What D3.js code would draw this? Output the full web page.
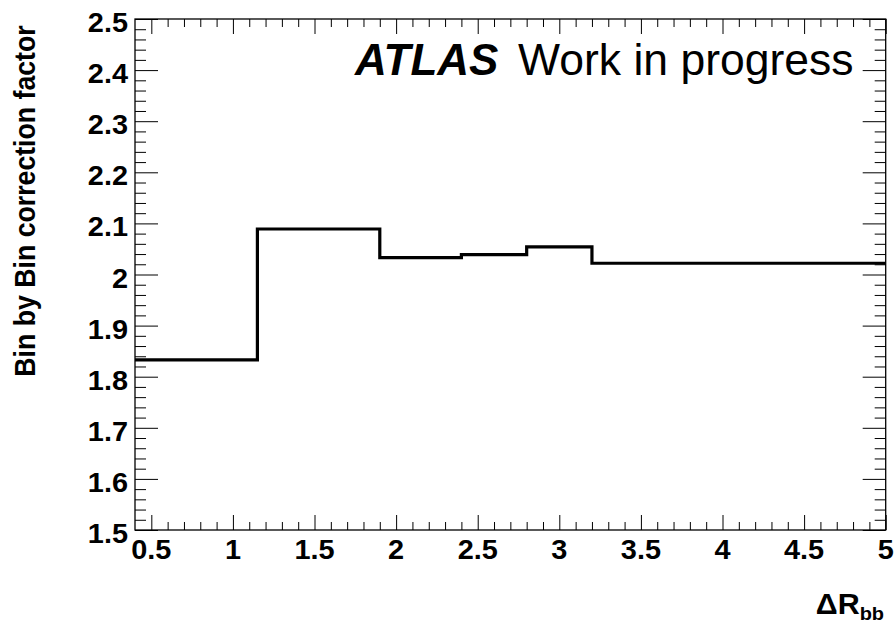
<!DOCTYPE html>
<html>
<head>
<meta charset="utf-8">
<script src="https://cdn.jsdelivr.net/npm/d3@7/dist/d3.min.js"></script>
<style>
  html, body { margin: 0; padding: 0; background: #fff; }
  svg { display: block; }
  text { font-family: "Liberation Sans", Arial, Helvetica, sans-serif; fill: #000; }
</style>
</head>
<body>
<script>
// Bin-by-bin correction factor versus Delta R between the two b-jets
const binEdges = [0.4, 1.15, 1.9, 2.4, 2.8, 3.2, 5.0];
const factors  = [1.833, 2.089, 2.033, 2.039, 2.054, 2.022];

const xMajorTicks = [0.5, 1, 1.5, 2, 2.5, 3, 3.5, 4, 4.5, 5];
const xTickLabels = ["0.5", "1", "1.5", "2", "2.5", "3", "3.5", "4", "4.5", "5"];
const yMajorTicks = [1.5, 1.6, 1.7, 1.8, 1.9, 2.0, 2.1, 2.2, 2.3, 2.4, 2.5];
const yTickLabels = ["1.5", "1.6", "1.7", "1.8", "1.9", "2", "2.1", "2.2", "2.3", "2.4", "2.5"];

const W = 895, H = 622;
const frame = { left: 135, right: 885.7, top: 19, bottom: 530 };

const svg = d3.select("body").append("svg")
  .attr("width", W).attr("height", H);

const x = d3.scaleLinear().domain([0.4, 5.0]).range([frame.left, frame.right]);
const y = d3.scaleLinear().domain([1.5, 2.5]).range([frame.bottom, frame.top]);

// minor tick positions
const xMinor = d3.range(5, 51).map(d => d / 10).filter(v => !xMajorTicks.some(m => Math.abs(m - v) < 1e-9));
const yMinor = d3.range(75, 126).map(d => d / 50).filter(v => !yMajorTicks.some(m => Math.abs(m - v) < 1e-9));

function tickAxis(axisFn, scale, values, size, tx, ty) {
  const g = svg.append("g")
    .attr("transform", `translate(${tx},${ty})`)
    .call(axisFn(scale).tickValues(values).tickSize(-size).tickFormat(""));
  g.select(".domain").remove();
  g.selectAll(".tick line").attr("stroke", "#000").attr("stroke-width", 1);
  return g;
}

// ticks pointing inwards on all four sides
tickAxis(d3.axisBottom, x, xMajorTicks, 15, 0, frame.bottom);
tickAxis(d3.axisBottom, x, xMinor, 8, 0, frame.bottom);
tickAxis(d3.axisTop, x, xMajorTicks, 15, 0, frame.top);
tickAxis(d3.axisTop, x, xMinor, 8, 0, frame.top);
tickAxis(d3.axisLeft, y, yMajorTicks, 23, frame.left, 0);
tickAxis(d3.axisLeft, y, yMinor, 11, frame.left, 0);
tickAxis(d3.axisRight, y, yMajorTicks, 23, frame.right, 0);
tickAxis(d3.axisRight, y, yMinor, 11, frame.right, 0);

// frame
svg.append("rect")
  .attr("x", frame.left).attr("y", frame.top)
  .attr("width", frame.right - frame.left).attr("height", frame.bottom - frame.top)
  .attr("fill", "none").attr("stroke", "#000").attr("stroke-width", 1.3);

// tick labels
const labelStretch = 1.07;
svg.append("g").selectAll("text")
  .data(yMajorTicks)
  .join("text")
  .attr("transform", d => `translate(128,${y(d) + 13}) scale(${labelStretch},1)`)
  .attr("text-anchor", "end")
  .attr("font-size", 27)
  .attr("font-weight", "bold")
  .text((d, i) => yTickLabels[i]);

svg.append("g").selectAll("text")
  .data(xMajorTicks)
  .join("text")
  .attr("transform", d => `translate(${x(d)},558.5) scale(${labelStretch},1)`)
  .attr("text-anchor", "middle")
  .attr("font-size", 27)
  .attr("font-weight", "bold")
  .text((d, i) => xTickLabels[i]);

// axis titles
svg.append("text")
  .attr("transform", `translate(35,${(25 + 377) / 2}) scale(1.08,1) rotate(-90)`)
  .attr("text-anchor", "middle")
  .attr("font-size", 26.7)
  .attr("font-weight", "bold")
  .text("Bin by Bin correction factor");

const xt = svg.append("text")
  .attr("transform", `translate(884,614) scale(1.05,1)`)
  .attr("text-anchor", "end")
  .attr("font-size", 29)
  .attr("font-weight", "bold");
xt.append("tspan").text("\u0394R");
xt.append("tspan").attr("font-size", 19).attr("dy", 5.5).text("bb");

// histogram outline
const stepPts = [];
factors.forEach((v, i) => {
  stepPts.push([x(binEdges[i]), y(v)]);
  stepPts.push([x(binEdges[i + 1]), y(v)]);
});
svg.append("path")
  .datum(stepPts)
  .attr("d", d3.line())
  .attr("fill", "none")
  .attr("stroke", "#000")
  .attr("stroke-width", 3.2)
  .attr("stroke-linejoin", "miter")
  .attr("stroke-linecap", "butt");

// experiment label
svg.append("text")
  .attr("x", 355).attr("y", 75)
  .attr("font-size", 44)
  .attr("font-weight", "bold")
  .attr("font-style", "italic")
  .text("ATLAS");
svg.append("text")
  .attr("x", 518).attr("y", 75)
  .attr("font-size", 44.5)
  .text("Work in progress");
</script>
</body>
</html>
